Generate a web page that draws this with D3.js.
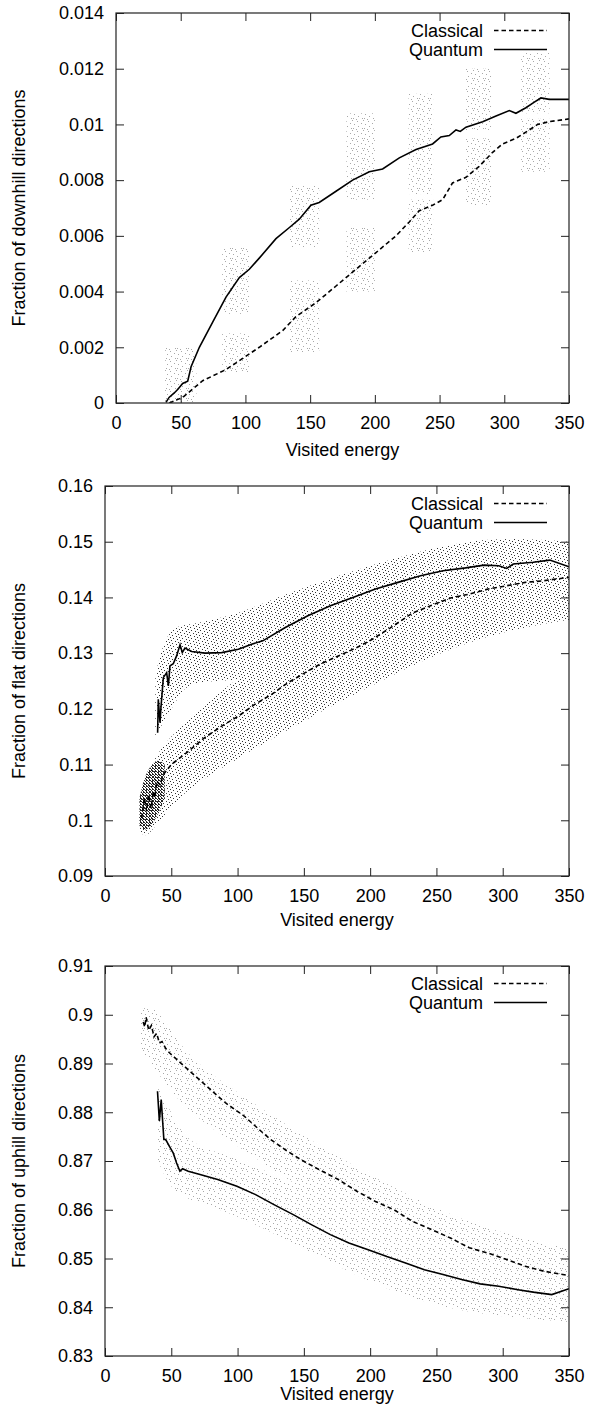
<!DOCTYPE html>
<html>
<head>
<meta charset="utf-8">
<script src="https://cdn.jsdelivr.net/npm/d3@7/dist/d3.min.js"></script>
<style>
  html, body { margin: 0; padding: 0; background: #fff; }
  svg { display: block; }
  text { font-family: "Liberation Sans", Arial, Helvetica, sans-serif; fill: #000; }
</style>
</head>
<body>
<svg id="chart" width="589" height="1413"></svg>
<script>
// ---------------- DATA ----------------
const energyTicks = [0, 50, 100, 150, 200, 250, 300, 350];
const downTicks = [0, 0.002, 0.004, 0.006, 0.008, 0.01, 0.012, 0.014];
const flatTicks = [0.09, 0.1, 0.11, 0.12, 0.13, 0.14, 0.15, 0.16];
const upTicks = [0.83, 0.84, 0.85, 0.86, 0.87, 0.88, 0.89, 0.9, 0.91];
const seriesNames = ["Classical", "Quantum"];

// Downhill fraction: [energy, value]
const downClassical = [[41.2,0],[51.5,0.0002],[67,0.0008],[85,0.0012],[97.9,0.0016],[110.7,0.0020],[128.8,0.0026],[139,0.0031],[154.5,0.0036],[170,0.0042],[185.4,0.0048],[200.9,0.0054],[216.3,0.0060],[226.6,0.0065],[234.3,0.0069],[244.6,0.0071],[252.4,0.0073],[260,0.0079],[270.4,0.0081],[280.7,0.0085],[291,0.0090],[298.7,0.0093],[309,0.0095],[319.3,0.0098],[325.7,0.0100],[334.8,0.0101],[350,0.0102]];
const downQuantum = [[38.6,0.00002],[41,0.0002],[45,0.00036],[48,0.0005],[51.5,0.0007],[55.4,0.00078],[58,0.0013],[64.4,0.0020],[74.7,0.0029],[85,0.0038],[95.3,0.0045],[103,0.0048],[110.7,0.0052],[123.6,0.0059],[134,0.0063],[141.6,0.0066],[150.6,0.0071],[157,0.0072],[170,0.0076],[182.8,0.0080],[195.7,0.0083],[206,0.0084],[218.9,0.0088],[231.8,0.0091],[244.6,0.0093],[251,0.00955],[257.5,0.0096],[262.7,0.0098],[266,0.00975],[270.4,0.0099],[283.3,0.0101],[293.6,0.0103],[303.9,0.0105],[309,0.0104],[316.7,0.0106],[323.2,0.0108],[328.3,0.01095],[334.8,0.0109],[350,0.0109]];
// Downhill scatter clusters: [energyFrom, energyTo, low, high]
const downClassicalCloud = [[38,62,0,0.0012],[82,103,0.0011,0.0025],[134,157,0.0018,0.0044],[178,200,0.0040,0.0063],[226,245,0.0054,0.0073],[270,291,0.0071,0.0095],[313,335,0.0083,0.0102]];
const downQuantumCloud = [[38,62,0.0002,0.0020],[82,103,0.0032,0.0056],[134,157,0.0056,0.0078],[178,200,0.0073,0.0104],[226,245,0.0075,0.0111],[270,291,0.0098,0.0120],[313,335,0.0104,0.0126]];

// Flat fraction
const flatClassical = [[27.7,0.1004],[29.7,0.1040],[31.4,0.1016],[32.7,0.1046],[34.7,0.1022],[36.5,0.1052],[37.7,0.1040],[39,0.1070],[41.5,0.1064],[44,0.1082],[50,0.1100],[63,0.1124],[75,0.1148],[88,0.1169],[100.6,0.1187],[113,0.1208],[125.7,0.1226],[138,0.1247],[151,0.1265],[162,0.1280],[176,0.1295],[190,0.1310],[201,0.1324],[215,0.1345],[232,0.1372],[246.5,0.1386],[260.6,0.1399],[274.8,0.1406],[289,0.1415],[303,0.1421],[317,0.1427],[331,0.1430],[350,0.1436]];
const flatQuantum = [[39.7,0.1157],[40.2,0.1217],[41.5,0.1175],[42.2,0.1202],[44,0.1256],[46.5,0.1265],[47.8,0.1241],[49,0.1277],[51.5,0.1281],[54,0.1295],[56.6,0.1315],[58.3,0.1301],[60.3,0.1309],[65.4,0.1303],[75.4,0.1300],[88,0.1301],[100.6,0.1307],[110.6,0.1316],[119,0.1322],[136,0.1346],[153,0.1367],[170,0.1385],[187,0.1400],[204,0.1415],[221,0.1427],[238,0.1439],[255,0.1448],[272,0.1453],[286,0.1458],[297,0.1457],[303,0.1452],[308,0.1460],[323,0.1463],[335.5,0.1467],[350,0.1455]];
// Flat scatter envelopes: [energy, low, high]
const flatClassicalCloud = [[26,0.098,0.104],[30,0.097,0.107],[35,0.098,0.110],[45,0.101,0.114],[63,0.106,0.118],[100,0.111,0.126],[150,0.118,0.132],[200,0.124,0.138],[250,0.130,0.144],[300,0.134,0.147],[350,0.136,0.149]];
const flatQuantumCloud = [[38,0.115,0.126],[45,0.118,0.133],[55,0.122,0.135],[63,0.125,0.135],[100,0.125,0.137],[119,0.126,0.139],[176,0.131,0.144],[232,0.136,0.148],[289,0.139,0.151],[350,0.140,0.150]];
const flatDenseCloud = [[26,0.099,0.104],[30,0.098,0.108],[35,0.099,0.110],[40,0.101,0.111],[45,0.104,0.110]];

// Uphill fraction
const upClassical = [[28.8,0.8985],[30,0.8975],[31,0.8995],[33,0.8968],[35,0.8978],[37,0.8955],[39,0.8962],[41,0.8942],[43,0.8945],[46,0.8930],[48.6,0.8922],[62.8,0.8887],[77,0.8853],[91,0.8819],[105,0.8792],[119,0.8758],[125,0.8744],[136,0.8723],[147.6,0.8703],[161.7,0.8682],[176,0.8662],[190,0.8638],[204,0.8617],[218,0.8600],[232,0.8576],[246.5,0.8559],[260.6,0.8542],[274.8,0.8522],[289,0.8511],[303,0.8498],[317,0.8484],[331,0.8474],[350,0.8465]];
const upQuantum = [[39.6,0.8843],[41,0.8782],[42.4,0.8826],[44.4,0.8744],[45.8,0.8744],[48.6,0.8730],[51.5,0.8716],[54,0.8696],[56.5,0.8679],[58.5,0.8684],[62.8,0.8679],[71,0.8673],[85,0.8662],[99.5,0.8648],[113.6,0.8631],[127.8,0.8610],[142,0.8590],[156,0.8569],[170,0.8549],[184,0.8532],[198.5,0.8518],[212.6,0.8504],[226.7,0.8491],[240.9,0.8477],[255,0.8467],[269,0.8457],[283,0.8448],[297,0.8443],[311.5,0.8436],[323,0.8431],[337,0.8426],[350,0.8438]];
const upClassicalCloud = [[27,0.893,0.901],[35,0.890,0.902],[45,0.886,0.899],[63,0.880,0.891],[100,0.873,0.884],[150,0.864,0.875],[200,0.856,0.867],[250,0.849,0.860],[300,0.844,0.855],[350,0.841,0.852]];
const upQuantumCloud = [[40,0.870,0.885],[50,0.864,0.880],[63,0.862,0.873],[100,0.859,0.871],[150,0.852,0.864],[200,0.845,0.858],[250,0.840,0.853],[300,0.838,0.850],[350,0.837,0.849]];
const upDenseCloud = [[27,0.895,0.900],[32,0.893,0.901],[38,0.891,0.899],[44,0.891,0.896]];

// ---------------- DRAWING ----------------
const svg = d3.select("#chart");
const defs = svg.append("defs");

function makePattern(id, w, h, pts, color) {
  const p = defs.append("pattern").attr("id", id)
    .attr("width", w).attr("height", h).attr("patternUnits", "userSpaceOnUse");
  pts.forEach(([px, py]) => p.append("rect").attr("x", px).attr("y", py)
    .attr("width", 1).attr("height", 1).attr("fill", color));
}
makePattern("dotsGray", 11, 10, [[0,0],[5,1],[9,3],[2,4],[6,6],[10,8],[1,8],[4,9]], "#a8a8a8");
makePattern("dotsBlack", 9, 8, [[0,0],[4,1],[7,2],[1,3],[5,4],[8,5],[2,6],[6,7]], "#333");
makePattern("dotsDense", 3, 3, [[0,0],[1,1],[2,2],[2,0]], "#222");

const fmt = v => String(+v.toFixed(4));

const panels = [
  { top: 13, left: 116, yDomain: [0, 0.014], yTicks: downTicks,
    title: "Fraction of downhill directions", xTitleY: 456,
    classical: downClassical, quantum: downQuantum,
    clusters: [[downClassicalCloud, "dotsGray"], [downQuantumCloud, "dotsGray"]], bands: [] },
  { top: 486, left: 105, yDomain: [0.09, 0.16], yTicks: flatTicks,
    title: "Fraction of flat directions", xTitleY: 926,
    classical: flatClassical, quantum: flatQuantum, clusters: [],
    bands: [[flatClassicalCloud, "dotsBlack"], [flatQuantumCloud, "dotsBlack"], [flatDenseCloud, "dotsDense"]] },
  { top: 966, left: 105, yDomain: [0.83, 0.91], yTicks: upTicks,
    title: "Fraction of uphill directions", xTitleY: 1399.5,
    classical: upClassical, quantum: upQuantum, clusters: [],
    bands: [[upClassicalCloud, "dotsGray"], [upQuantumCloud, "dotsGray"], [upDenseCloud, "dotsGray"]] }
];

const right = 569, plotH = 390, tick = 8;

panels.forEach((P, i) => {
  const x = d3.scaleLinear().domain([0, 350]).range([P.left, right]);
  const y = d3.scaleLinear().domain(P.yDomain).range([P.top + plotH, P.top]);
  const bottom = P.top + plotH;
  const g = svg.append("g");
  const clipId = "clip" + i;
  defs.append("clipPath").attr("id", clipId).append("rect")
    .attr("x", P.left).attr("y", P.top).attr("width", right - P.left).attr("height", plotH);
  const plot = g.append("g").attr("clip-path", `url(#${clipId})`);

  // scatter clouds
  P.clusters.forEach(([arr, pat]) => {
    plot.selectAll(null).data(arr).join("rect")
      .attr("x", d => x(d[0])).attr("width", d => x(d[1]) - x(d[0]))
      .attr("y", d => y(d[3])).attr("height", d => y(d[2]) - y(d[3]))
      .attr("fill", `url(#${pat})`);
  });
  const area = d3.area().x(d => x(d[0])).y0(d => y(d[1])).y1(d => y(d[2])).curve(d3.curveBasis);
  P.bands.forEach(([arr, pat]) => {
    plot.append("path").datum(arr).attr("d", area).attr("fill", `url(#${pat})`);
  });

  // lines
  const line = d3.line().x(d => x(d[0])).y(d => y(d[1]));
  plot.append("path").datum(P.classical).attr("d", line)
    .attr("fill", "none").attr("stroke", "#000").attr("stroke-width", 1.6)
    .attr("stroke-dasharray", "4.5,3");
  plot.append("path").datum(P.quantum).attr("d", line)
    .attr("fill", "none").attr("stroke", "#000").attr("stroke-width", 1.6);

  // axes (inward ticks)
  const axB = g.append("g").attr("transform", `translate(0,${bottom})`)
    .call(d3.axisBottom(x).tickValues(energyTicks).tickSizeInner(-tick).tickSizeOuter(0).tickPadding(13).tickFormat(d3.format("d")));
  const axT = g.append("g").attr("transform", `translate(0,${P.top})`)
    .call(d3.axisTop(x).tickValues(energyTicks).tickSizeInner(-tick).tickSizeOuter(0).tickFormat(""));
  const axL = g.append("g").attr("transform", `translate(${P.left},0)`)
    .call(d3.axisLeft(y).tickValues(P.yTicks).tickSizeInner(-tick).tickSizeOuter(0).tickPadding(12).tickFormat(fmt));
  const axR = g.append("g").attr("transform", `translate(${right},0)`)
    .call(d3.axisRight(y).tickValues(P.yTicks).tickSizeInner(-tick).tickSizeOuter(0).tickFormat(""));
  [axB, axT, axL, axR].forEach(a => {
    a.select(".domain").remove();
    a.selectAll("line").attr("stroke", "#222").attr("stroke-width", 1);
    a.selectAll("text").attr("font-size", 18).attr("font-family", '"Liberation Sans", Arial, Helvetica, sans-serif').attr("fill", "#000");
  });

  // frame
  g.append("rect").attr("x", P.left).attr("y", P.top).attr("width", right - P.left).attr("height", plotH)
    .attr("fill", "none").attr("stroke", "#222").attr("stroke-width", 1.2);

  // titles
  g.append("text").attr("x", (P.left + right) / 2).attr("y", P.xTitleY)
    .attr("text-anchor", "middle").attr("font-size", 18).text("Visited energy");
  g.append("text").attr("transform", `translate(25,${P.top + plotH / 2}) rotate(-90)`)
    .attr("text-anchor", "middle").attr("font-size", 18).text(P.title);

  // legend
  seriesNames.forEach((name, k) => {
    const cy = P.top + 17.5 + k * 19;
    g.append("text").attr("x", 483).attr("y", cy + 6.4).attr("text-anchor", "end")
      .attr("font-size", 18).text(name);
    const l = g.append("line").attr("x1", 494).attr("x2", 547).attr("y1", cy).attr("y2", cy)
      .attr("stroke", "#000").attr("stroke-width", 1.6);
    if (k === 0) l.attr("stroke-dasharray", "4.5,3");
  });
});
</script>
</body>
</html>
